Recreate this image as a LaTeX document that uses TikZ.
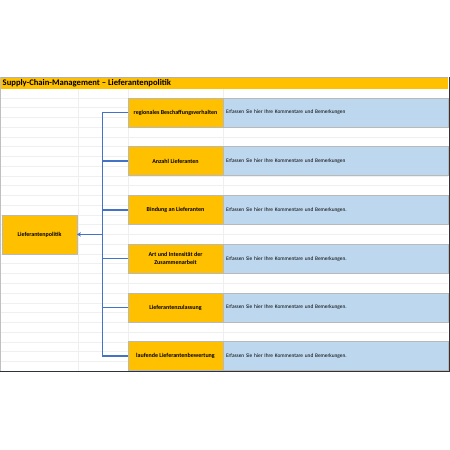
\documentclass[tikz,border=0pt]{standalone}
\usepackage{fontspec}
\setmainfont{Carlito}
\usepackage{tikz}
\usetikzlibrary{
    arrows.meta,
    positioning,
    calc
}
\usepackage{xcolor}
\definecolor{xlorange}{HTML}{FFC000}
\definecolor{xlblue}{HTML}{BDD7EE}
\definecolor{xlline}{HTML}{4472C4}
\definecolor{xlgrid}{HTML}{EFEFEF}
\definecolor{xlframe}{HTML}{2E3338}

\begin{document}
\begin{tikzpicture}[
    x=1pt, y=-1pt,
    node distance=19.55pt,
    topic/.style={rectangle, draw=gray!55, line width=0.6pt, outer sep=0pt, fill=xlorange, minimum width=95pt, minimum height=29.2pt, inner sep=1pt, font=\fontsize{6}{7.5}\selectfont\bfseries, align=center},
    note/.style={rectangle, draw=gray!55, line width=0.6pt, outer sep=0pt, fill=xlblue, minimum width=225pt, minimum height=29.2pt, inner sep=3pt, text width=219pt, font=\fontsize{5.35}{6}\selectfont, align=left},
    link/.style={xlline, line width=1.4pt},
    arrow/.style={link, -{Stealth[length=4pt, width=4.5pt]}}
]
\useasboundingbox (0,0) rectangle (450,450);

% Sheet grid
\foreach \k in {0,...,29}
    \draw[xlgrid, line width=0.4pt] (0,88+\k*9.76) -- (448,88+\k*9.76);
\foreach \c in {78,128,223}
    \draw[xlgrid, line width=0.4pt] (\c,88) -- (\c,371);

% Title bar
\fill[xlorange] (0,77) rectangle (448,88.5);
\node[anchor=west, inner sep=0pt, font=\fontsize{8.6}{10}\selectfont\bfseries] (title) at (2.5,83) {Supply-Chain-Management -- Lieferantenpolitik};

% Topics (right)
\node[topic, anchor=north west] (r1) at (128,97.8) {regionales Beschaffungsverhalten};
\node[topic, below=of r1] (r2) {Anzahl Lieferanten};
\node[topic, below=of r2] (r3) {Bindung an Lieferanten};
\node[topic, below=of r3] (r4) {Art und Intensität der\\[1pt]Zusammenarbeit};
\node[topic, below=of r4] (r5) {Lieferantenzulassung};
\node[topic, below=of r5] (r6) {laufende Lieferantenbewertung};

\node[note, right=0pt of r1] (n1) {Erfassen Sie hier Ihre Kommentare und Bemerkungen};
\node[note, right=0pt of r2] (n2) {Erfassen Sie hier Ihre Kommentare und Bemerkungen};
\node[note, right=0pt of r3] (n3) {Erfassen Sie hier Ihre Kommentare und Bemerkungen.};
\node[note, right=0pt of r4] (n4) {Erfassen Sie hier Ihre Kommentare und Bemerkungen.};
\node[note, right=0pt of r5] (n5) {Erfassen Sie hier Ihre Kommentare und Bemerkungen.};
\node[note, right=0pt of r6] (n6) {Erfassen Sie hier Ihre Kommentare und Bemerkungen.};

% Root (left)
\node[topic, minimum width=75pt, minimum height=39pt] (root) at (39.5,234.4) {Lieferantenpolitik};

% Connectors
\coordinate (bus) at ($(root.east)+(25.5,0)$);
\draw[link] (r1.west) -| (bus);
\draw[link] (r6.west) -| (bus);
\draw[link] (r2.west) -- (r2.west -| bus);
\draw[link] (r3.west) -- (r3.west -| bus);
\draw[link] (r4.west) -- (r4.west -| bus);
\draw[link] (r5.west) -- (r5.west -| bus);
\draw[arrow] (bus) -- (root.east);

% Sheet frame
\draw[gray!60, line width=0.6pt] (0,77) -- (448,77);
\draw[gray!50, line width=0.8pt] (0.8,77) -- (0.8,371);
\draw[xlframe, line width=1pt] (0,371) -- (449,371) -- (449,77);

\end{tikzpicture}
\end{document}
